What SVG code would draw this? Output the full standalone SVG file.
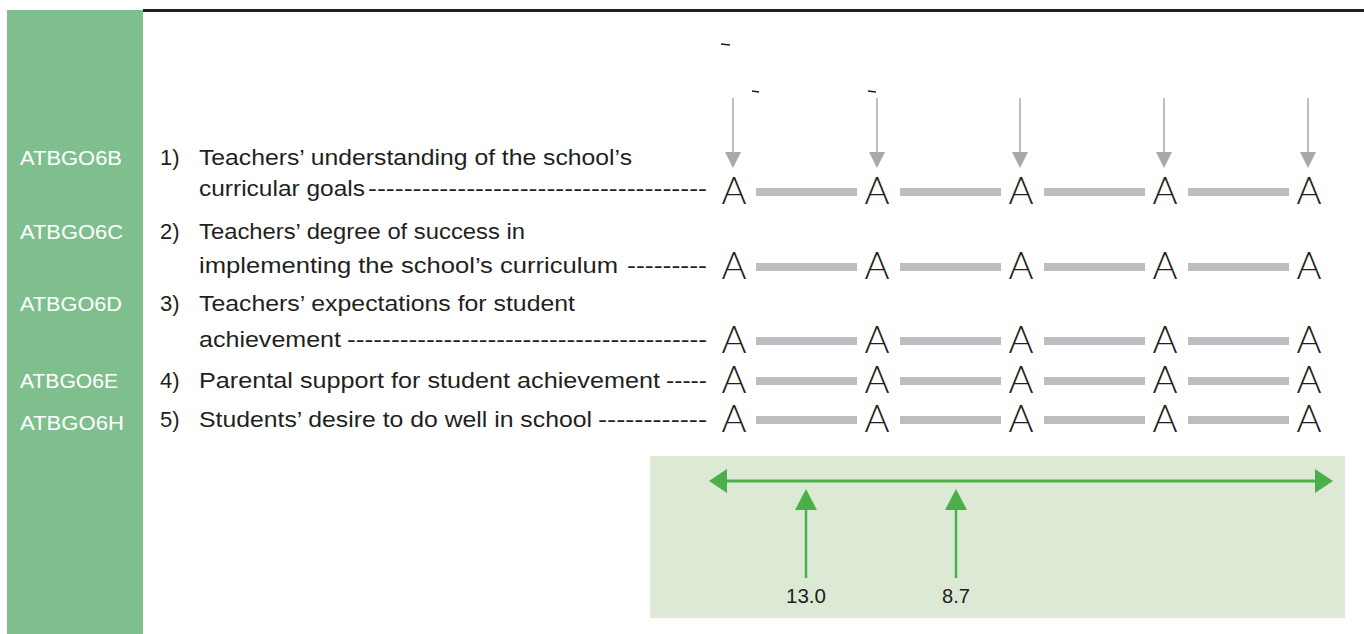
<svg xmlns="http://www.w3.org/2000/svg" width="1364" height="634" viewBox="0 0 1364 634">
<style>
.code{font-family:"Liberation Sans",Arial,sans-serif;font-size:20px;fill:#ffffff}
.item{font-family:"Liberation Sans",Arial,sans-serif;font-size:22px;fill:#231f20}
.A{font-family:Lato,"Open Sans",sans-serif;font-weight:300;font-size:38px;fill:#231f20;text-anchor:middle}
.bar{fill:#bcbdc0}
.gline{stroke:#a7a9ac;stroke-width:1.5;fill:none}
.ghead{fill:#a7a9ac}
.grn{stroke:#4cb04a;stroke-width:3;fill:none}
.grnh{fill:#4cb04a}
.val{font-family:"Liberation Sans",Arial,sans-serif;font-size:20px;fill:#231f20;text-anchor:middle}
.tick{stroke:#231f20;stroke-width:1.5}
</style>
<rect x="7" y="10" width="136" height="624" fill="#7fbf8e"/>
<rect x="143" y="9" width="1221" height="3" fill="#231f20"/>
<g id="codes">
<text class="code" x="20" y="165" textLength="102" lengthAdjust="spacingAndGlyphs">ATBGO6B</text>
<text class="code" x="20" y="239" textLength="103" lengthAdjust="spacingAndGlyphs">ATBGO6C</text>
<text class="code" x="20" y="311" textLength="102" lengthAdjust="spacingAndGlyphs">ATBGO6D</text>
<text class="code" x="20" y="388" textLength="98" lengthAdjust="spacingAndGlyphs">ATBGO6E</text>
<text class="code" x="20" y="430" textLength="104" lengthAdjust="spacingAndGlyphs">ATBGO6H</text>
</g>
<g id="item1">
<text class="item" x="160" y="165">1)</text>
<text class="item" x="199" y="165" textLength="433" lengthAdjust="spacingAndGlyphs">Teachers’ understanding of the school’s</text>
<text class="item" x="199" y="196" textLength="166" lengthAdjust="spacingAndGlyphs">curricular goals</text>
<text class="item" x="368" y="196" textLength="339" lengthAdjust="spacingAndGlyphs">--------------------------------------</text>
</g>
<g id="item2">
<text class="item" x="160" y="239">2)</text>
<text class="item" x="199" y="239" textLength="326" lengthAdjust="spacingAndGlyphs">Teachers’ degree of success in</text>
<text class="item" x="199" y="273" textLength="419" lengthAdjust="spacingAndGlyphs">implementing the school’s curriculum</text>
<text class="item" x="627" y="273" textLength="80" lengthAdjust="spacingAndGlyphs">---------</text>
</g>
<g id="item3">
<text class="item" x="160" y="311">3)</text>
<text class="item" x="199" y="311" textLength="376" lengthAdjust="spacingAndGlyphs">Teachers’ expectations for student</text>
<text class="item" x="199" y="347" textLength="142" lengthAdjust="spacingAndGlyphs">achievement</text>
<text class="item" x="347" y="347" textLength="360" lengthAdjust="spacingAndGlyphs">-----------------------------------------</text>
</g>
<g id="item4">
<text class="item" x="160" y="388">4)</text>
<text class="item" x="199" y="388" textLength="461" lengthAdjust="spacingAndGlyphs">Parental support for student achievement</text>
<text class="item" x="666" y="388" textLength="41" lengthAdjust="spacingAndGlyphs">-----</text>
</g>
<g id="item5">
<text class="item" x="160" y="427">5)</text>
<text class="item" x="199" y="427" textLength="393" lengthAdjust="spacingAndGlyphs">Students’ desire to do well in school</text>
<text class="item" x="598" y="427" textLength="109" lengthAdjust="spacingAndGlyphs">------------</text>
</g>
<g id="scale-row1">
<rect class="bar" x="756" y="188" width="101" height="8"/><rect class="bar" x="900" y="188" width="101" height="8"/><rect class="bar" x="1044" y="188" width="101" height="8"/><rect class="bar" x="1188" y="188" width="101" height="8"/>
<text class="A" x="734" y="204" textLength="25" lengthAdjust="spacingAndGlyphs">A</text><text class="A" x="877" y="204" textLength="25" lengthAdjust="spacingAndGlyphs">A</text><text class="A" x="1021" y="204" textLength="25" lengthAdjust="spacingAndGlyphs">A</text><text class="A" x="1165" y="204" textLength="25" lengthAdjust="spacingAndGlyphs">A</text><text class="A" x="1309" y="204" textLength="25" lengthAdjust="spacingAndGlyphs">A</text>
</g>
<g id="scale-row2">
<rect class="bar" x="756" y="263" width="101" height="8"/><rect class="bar" x="900" y="263" width="101" height="8"/><rect class="bar" x="1044" y="263" width="101" height="8"/><rect class="bar" x="1188" y="263" width="101" height="8"/>
<text class="A" x="734" y="279" textLength="25" lengthAdjust="spacingAndGlyphs">A</text><text class="A" x="877" y="279" textLength="25" lengthAdjust="spacingAndGlyphs">A</text><text class="A" x="1021" y="279" textLength="25" lengthAdjust="spacingAndGlyphs">A</text><text class="A" x="1165" y="279" textLength="25" lengthAdjust="spacingAndGlyphs">A</text><text class="A" x="1309" y="279" textLength="25" lengthAdjust="spacingAndGlyphs">A</text>
</g>
<g id="scale-row3">
<rect class="bar" x="756" y="337" width="101" height="8"/><rect class="bar" x="900" y="337" width="101" height="8"/><rect class="bar" x="1044" y="337" width="101" height="8"/><rect class="bar" x="1188" y="337" width="101" height="8"/>
<text class="A" x="734" y="353" textLength="25" lengthAdjust="spacingAndGlyphs">A</text><text class="A" x="877" y="353" textLength="25" lengthAdjust="spacingAndGlyphs">A</text><text class="A" x="1021" y="353" textLength="25" lengthAdjust="spacingAndGlyphs">A</text><text class="A" x="1165" y="353" textLength="25" lengthAdjust="spacingAndGlyphs">A</text><text class="A" x="1309" y="353" textLength="25" lengthAdjust="spacingAndGlyphs">A</text>
</g>
<g id="scale-row4">
<rect class="bar" x="756" y="377" width="101" height="8"/><rect class="bar" x="900" y="377" width="101" height="8"/><rect class="bar" x="1044" y="377" width="101" height="8"/><rect class="bar" x="1188" y="377" width="101" height="8"/>
<text class="A" x="734" y="393" textLength="25" lengthAdjust="spacingAndGlyphs">A</text><text class="A" x="877" y="393" textLength="25" lengthAdjust="spacingAndGlyphs">A</text><text class="A" x="1021" y="393" textLength="25" lengthAdjust="spacingAndGlyphs">A</text><text class="A" x="1165" y="393" textLength="25" lengthAdjust="spacingAndGlyphs">A</text><text class="A" x="1309" y="393" textLength="25" lengthAdjust="spacingAndGlyphs">A</text>
</g>
<g id="scale-row5">
<rect class="bar" x="756" y="416" width="101" height="8"/><rect class="bar" x="900" y="416" width="101" height="8"/><rect class="bar" x="1044" y="416" width="101" height="8"/><rect class="bar" x="1188" y="416" width="101" height="8"/>
<text class="A" x="734" y="432" textLength="25" lengthAdjust="spacingAndGlyphs">A</text><text class="A" x="877" y="432" textLength="25" lengthAdjust="spacingAndGlyphs">A</text><text class="A" x="1021" y="432" textLength="25" lengthAdjust="spacingAndGlyphs">A</text><text class="A" x="1165" y="432" textLength="25" lengthAdjust="spacingAndGlyphs">A</text><text class="A" x="1309" y="432" textLength="25" lengthAdjust="spacingAndGlyphs">A</text>
</g>
<g id="ticks">
<line class="tick" x1="721" y1="44" x2="730" y2="45"/>
<line class="tick" x1="752" y1="91" x2="759" y2="92"/>
<line class="tick" x1="868" y1="91" x2="876" y2="92"/>
<line class="tick" x1="735" y1="524" x2="741" y2="525"/>
<line class="tick" x1="850" y1="524" x2="857" y2="525"/>
</g>
<g id="connectors">
<line class="gline" x1="733" y1="98" x2="733" y2="153"/><polygon class="ghead" points="725,152 741,152 733,168"/>
<line class="gline" x1="877" y1="98" x2="877" y2="153"/><polygon class="ghead" points="869,152 885,152 877,168"/>
<line class="gline" x1="1020" y1="98" x2="1020" y2="153"/><polygon class="ghead" points="1012,152 1028,152 1020,168"/>
<line class="gline" x1="1164" y1="98" x2="1164" y2="153"/><polygon class="ghead" points="1156,152 1172,152 1164,168"/>
<line class="gline" x1="1308" y1="98" x2="1308" y2="153"/><polygon class="ghead" points="1300,152 1316,152 1308,168"/>
</g>
<g id="range-panel">
<rect x="650" y="456" width="695" height="162" fill="#dbe9d5"/>
<line class="grn" x1="722" y1="481" x2="1320" y2="481"/>
<polygon class="grnh" points="709,481 727,469 727,493"/>
<polygon class="grnh" points="1333,481 1315,469 1315,493"/>
<line class="grn" x1="806" y1="505" x2="806" y2="578" style="stroke-width:2.5"/>
<polygon class="grnh" points="806,489 795,510 817,510"/>
<line class="grn" x1="956" y1="505" x2="956" y2="578" style="stroke-width:2.5"/>
<polygon class="grnh" points="956,489 945,510 967,510"/>
<text class="val" x="806" y="603" textLength="40" lengthAdjust="spacingAndGlyphs">13.0</text>
<text class="val" x="956" y="603" textLength="28" lengthAdjust="spacingAndGlyphs">8.7</text>
</g>
</svg>
